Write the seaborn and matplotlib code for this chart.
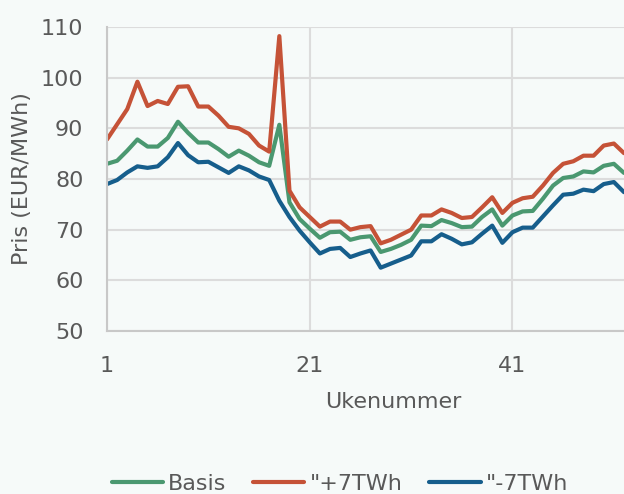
import matplotlib
matplotlib.use("Agg")
import matplotlib.pyplot as plt
import seaborn as sns
import pandas as pd

weeks = list(range(1, 53))
series_names = ["Basis", "\"+7TWh", "\"-7TWh"]
basis = [83.0, 83.6, 85.6, 87.8, 86.4, 86.4, 88.1, 91.3, 89.1, 87.2,
         87.2, 85.9, 84.4, 85.6, 84.6, 83.3, 82.6, 90.7, 75.4, 72.1,
         70.2, 68.4, 69.5, 69.6, 68.0, 68.5, 68.7, 65.6, 66.2, 67.0,
         68.0, 70.8, 70.7, 71.9, 71.3, 70.5, 70.6, 72.5, 74.0, 70.8,
         72.8, 73.6, 73.7, 76.1, 78.7, 80.2, 80.5, 81.5, 81.3, 82.6, 83.0, 81.2]
plus7 = [87.8, 90.8, 93.8, 99.2, 94.4, 95.4, 94.8, 98.2, 98.3, 94.3,
         94.3, 92.5, 90.3, 90.0, 88.9, 86.6, 85.4, 108.2, 77.7, 74.4,
         72.5, 70.6, 71.6, 71.6, 70.0, 70.5, 70.7, 67.3, 68.0, 69.0,
         70.0, 72.8, 72.8, 74.0, 73.3, 72.3, 72.5, 74.4, 76.4, 73.3,
         75.3, 76.2, 76.5, 78.7, 81.2, 83.0, 83.5, 84.6, 84.6, 86.6, 87.0, 85.1]
minus7 = [79.0, 79.8, 81.3, 82.5, 82.2, 82.5, 84.3, 87.1, 84.7, 83.3,
          83.4, 82.3, 81.2, 82.5, 81.7, 80.5, 79.8, 75.7, 72.5, 69.8,
          67.5, 65.3, 66.2, 66.4, 64.6, 65.3, 65.9, 62.5, 63.3, 64.1,
          64.9, 67.7, 67.7, 69.1, 68.2, 67.1, 67.5, 69.2, 70.8, 67.4,
          69.5, 70.4, 70.4, 72.6, 74.8, 76.9, 77.1, 77.9, 77.6, 79.0, 79.4, 77.4]
x_ticks = [1, 21, 41]
y_ticks = [50, 60, 70, 80, 90, 100, 110]

df = pd.DataFrame({
    "Uke": weeks * 3,
    "Pris": basis + plus7 + minus7,
    "Serie": [series_names[0]] * 52 + [series_names[1]] * 52 + [series_names[2]] * 52,
})

bg = "#F6FAF9"
txt = "#595959"
grid_c = "#DCDCDC"
palette = {series_names[0]: "#4A9870", series_names[1]: "#C55237", series_names[2]: "#165E8C"}

sns.set_theme(style="white")
plt.rcParams["font.family"] = ["DejaVu Sans"]

fig = plt.figure(figsize=(6.24, 4.94), dpi=100, facecolor=bg)
ax = fig.add_axes([107 / 624, 1 - 331 / 494, 1 - 107 / 624, (331 - 27) / 494])
ax.set_facecolor(bg)

sns.lineplot(data=df, x="Uke", y="Pris", hue="Serie", palette=palette,
             linewidth=3, ax=ax, legend=True)

ax.set_xlim(1, 52)
ax.set_ylim(50, 110)
ax.set_xticks(x_ticks)
ax.set_yticks(y_ticks)
ax.grid(True, color=grid_c, linewidth=1.5)
ax.set_axisbelow(True)
for s in ["top", "right"]:
    ax.spines[s].set_visible(False)
for s in ["left", "bottom"]:
    ax.spines[s].set_color("#C8C8C8")
    ax.spines[s].set_linewidth(1.5)
ax.tick_params(axis="both", length=0, labelsize=16, colors=txt)
ax.tick_params(axis="x", pad=18)
ax.tick_params(axis="y", pad=17)

ax.set_xlabel("Ukenummer", fontsize=16, color=txt, va="center")
ax.set_ylabel("Pris (EUR/MWh)", fontsize=16, color=txt, va="center")
ax.xaxis.set_label_coords((393 - 107) / 517, (331 - 402) / 304)
ax.yaxis.set_label_coords((22 - 107) / 517, 0.5)

handles, labels = ax.get_legend_handles_labels()
ax.get_legend().remove()
fig.legend(handles, labels, loc="center", bbox_to_anchor=(340 / 624, 1 - 484 / 494),
           ncol=3, frameon=False, fontsize=16, labelcolor=txt,
           handlelength=2.3, handletextpad=0.25, columnspacing=1.2)

fig.savefig("out.png", dpi=100, facecolor=bg)
